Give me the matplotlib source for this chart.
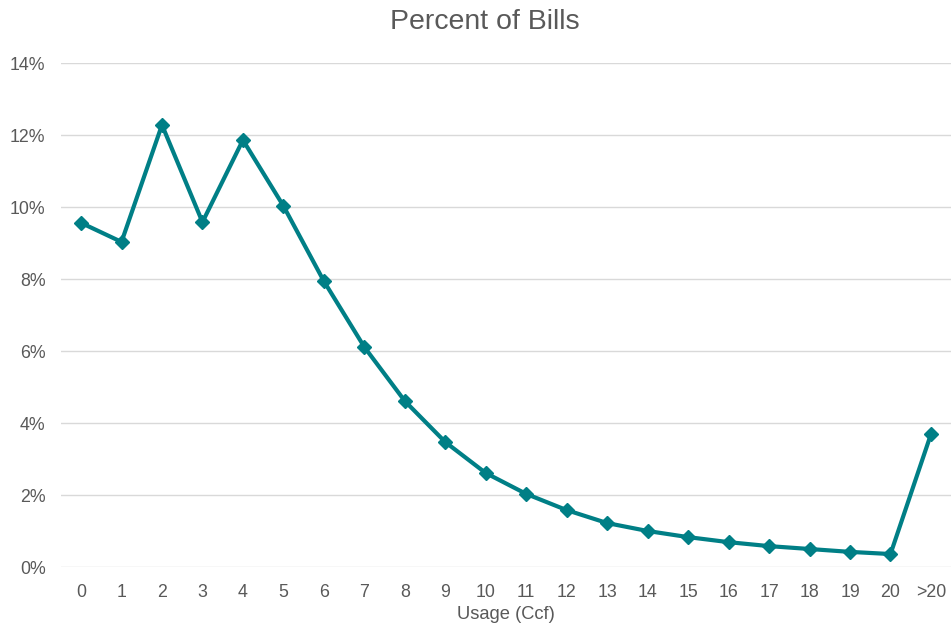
import matplotlib.pyplot as plt
from matplotlib.ticker import FuncFormatter

plt.rcParams['font.family'] = ['Liberation Sans', 'DejaVu Sans']

usage = ['0', '1', '2', '3', '4', '5', '6', '7', '8', '9', '10', '11',
         '12', '13', '14', '15', '16', '17', '18', '19', '20', '>20']
pct_bills = [9.56, 9.03, 12.28, 9.58, 11.86, 10.03, 7.94, 6.11, 4.61, 3.47,
             2.61, 2.03, 1.58, 1.22, 1.00, 0.83, 0.69, 0.58, 0.50, 0.42,
             0.36, 3.69]

teal = '#007F86'
grey = '#595959'

fig = plt.figure(figsize=(9.52, 6.32), dpi=100)
ax = fig.add_axes([60.8 / 952, 1 - 567 / 632, (951.2 - 60.8) / 952, (567 - 63) / 632])

x = list(range(len(usage)))
ax.plot(x, pct_bills, color=teal, lw=3, marker='D', markersize=7,
        solid_joinstyle='miter', zorder=3)

ax.set_xlim(-0.5, len(usage) - 0.5)
ax.set_ylim(0, 14)
ax.set_yticks(range(0, 15, 2))
ax.yaxis.set_major_formatter(FuncFormatter(lambda v, _: f'{v:.0f}%'))
ax.set_xticks(x)
ax.set_xticklabels(usage)

ax.grid(axis='y', color='#D9D9D9', lw=1)
ax.set_axisbelow(True)
for s in ax.spines.values():
    s.set_visible(False)
ax.tick_params(length=0, labelsize=12.8, colors=grey)
ax.tick_params(axis='x', pad=12)
ax.tick_params(axis='y', pad=11)

ax.set_xlabel('Usage (Ccf)', fontsize=13.2, color=grey, labelpad=4)
fig.text(485 / 952, 1 - 22 / 632, 'Percent of Bills', fontsize=20.5, color=grey,
         ha='center', va='center')

fig.savefig('out.png', dpi=100)
